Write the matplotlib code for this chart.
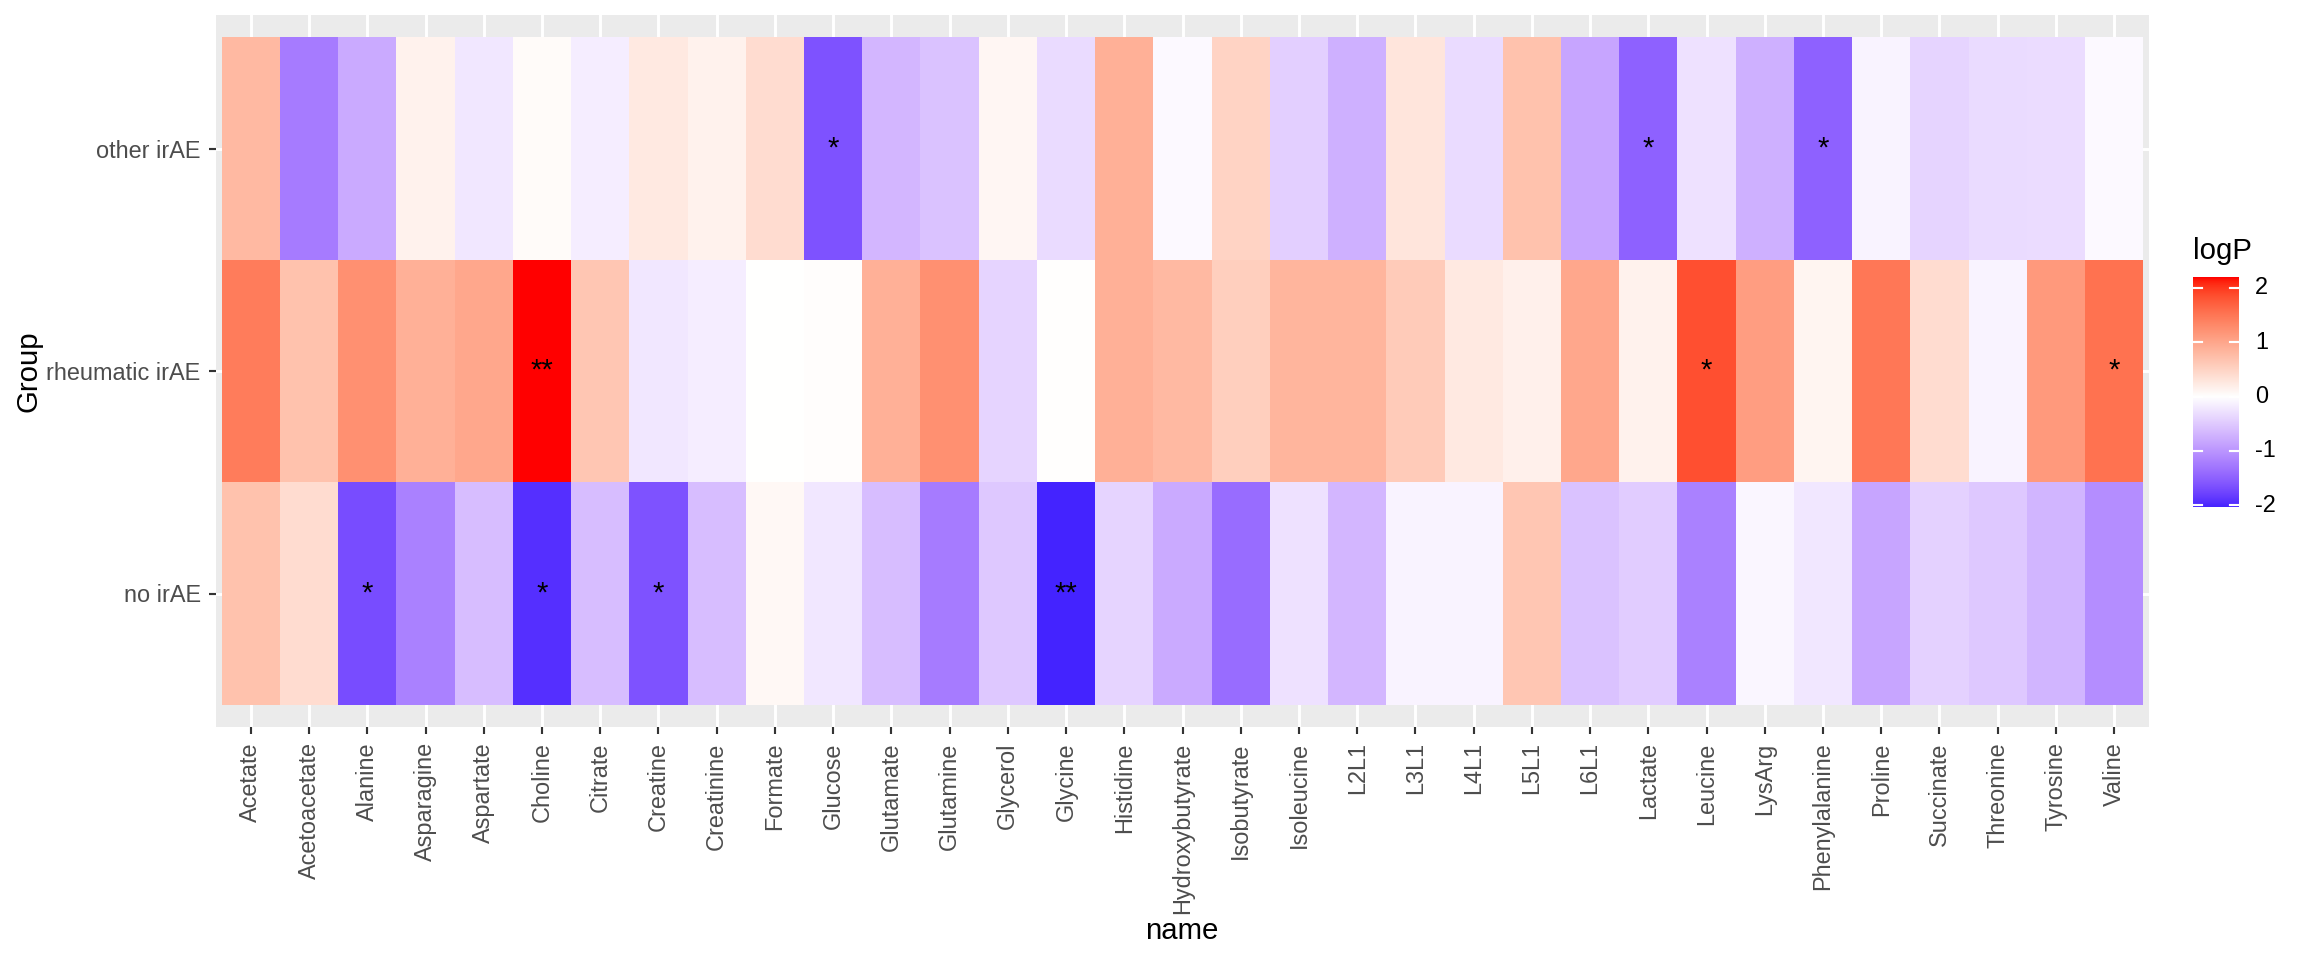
import numpy as np
import matplotlib
matplotlib.use("Agg")
import matplotlib.pyplot as plt
from matplotlib.colors import ListedColormap, Normalize

plt.rcParams['font.family'] = ['Liberation Sans', 'DejaVu Sans']

names = ["Acetate", "Acetoacetate", "Alanine", "Asparagine", "Aspartate", "Choline",
         "Citrate", "Creatine", "Creatinine", "Formate", "Glucose", "Glutamate",
         "Glutamine", "Glycerol", "Glycine", "Histidine", "Hydroxybutyrate",
         "Isobutyrate", "Isoleucine", "L2L1", "L3L1", "L4L1", "L5L1", "L6L1",
         "Lactate", "Leucine", "LysArg", "Phenylalanine", "Proline", "Succinate",
         "Threonine", "Tyrosine", "Valine"]

groups = ["no irAE", "rheumatic irAE", "other irAE"]

logp_no = [0.70, 0.40, -1.70, -1.20, -0.62, -1.95, -0.62, -1.65, -0.62, 0.08, -0.23,
           -0.62, -1.25, -0.52, -2.03, -0.40, -0.80, -1.40, -0.28, -0.68, -0.11,
           -0.11, 0.65, -0.57, -0.48, -1.20, -0.08, -0.23, -0.85, -0.43, -0.52,
           -0.70, -1.08]
logp_rheum = [1.45, 0.70, 1.25, 0.90, 1.00, 2.20, 0.65, -0.23, -0.17, 0.00, 0.02,
              0.90, 1.25, -0.40, 0.01, 0.90, 0.80, 0.55, 0.85, 0.85, 0.60, 0.25,
              0.17, 1.00, 0.15, 1.85, 1.10, 0.12, 1.50, 0.40, -0.11, 1.15, 1.55]
logp_other = [0.80, -1.25, -0.80, 0.15, -0.23, 0.05, -0.17, 0.25, 0.15, 0.40, -1.65,
              -0.68, -0.57, 0.10, -0.34, 0.90, -0.06, 0.50, -0.45, -0.74, 0.30,
              -0.34, 0.70, -0.85, -1.50, -0.28, -0.74, -1.50, -0.11, -0.40, -0.34,
              -0.32, -0.06]

sig_no = {"Alanine": "*", "Choline": "*", "Creatine": "*", "Glycine": "**"}
sig_rheum = {"Choline": "**", "Leucine": "*", "Valine": "*"}
sig_other = {"Glucose": "*", "Lactate": "*", "Phenylalanine": "*"}

legend_ticks = [-2, -1, 0, 1, 2]

# ---------- Lab interpolation (like scales::gradient_n_pal) ----------
def _srgb_to_lab(rgb):
    rgb = np.asarray(rgb, float)
    lin = np.where(rgb <= 0.04045, rgb / 12.92, ((rgb + 0.055) / 1.055) ** 2.4)
    M = np.array([[0.4124564, 0.3575761, 0.1804375],
                  [0.2126729, 0.7151522, 0.0721750],
                  [0.0193339, 0.1191920, 0.9503041]])
    xyz = M @ lin
    wp = np.array([0.95047, 1.0, 1.08883])
    t = xyz / wp
    d = 6 / 29
    f = np.where(t > d ** 3, np.cbrt(t), t / (3 * d * d) + 4 / 29)
    return np.array([116 * f[1] - 16, 500 * (f[0] - f[1]), 200 * (f[1] - f[2])])

def _lab_to_srgb(lab):
    L, a, b = lab
    fy = (L + 16) / 116
    fx = fy + a / 500
    fz = fy - b / 200
    d = 6 / 29
    def finv(f):
        return np.where(f > d, f ** 3, 3 * d * d * (f - 4 / 29))
    wp = np.array([0.95047, 1.0, 1.08883])
    xyz = np.array([finv(fx), finv(fy), finv(fz)]) * wp
    Minv = np.array([[3.2404542, -1.5371385, -0.4985314],
                     [-0.9692660, 1.8760108, 0.0415560],
                     [0.0556434, -0.2040259, 1.0572252]])
    lin = Minv @ xyz
    lin = np.clip(lin, 0, 1)
    rgb = np.where(lin <= 0.0031308, 12.92 * lin, 1.055 * lin ** (1 / 2.4) - 0.055)
    return np.clip(rgb, 0, 1)

low = _srgb_to_lab([0, 0, 1])
mid = _srgb_to_lab([1, 1, 1])
high = _srgb_to_lab([1, 0, 0])
N = 512
cols = []
for t in np.linspace(0, 1, N):
    if t <= 0.5:
        s = t / 0.5
        lab = low + (mid - low) * s
    else:
        s = (t - 0.5) / 0.5
        lab = mid + (high - mid) * s
    cols.append(_lab_to_srgb(lab))
cmap = ListedColormap(cols)

Z = np.array([logp_no, logp_rheum, logp_other])
vmin, vmax = Z.min(), Z.max()
M = max(abs(vmin), abs(vmax))
norm = Normalize(-M, M)

# ---------- figure ----------
W, H, DPI = 2304, 960, 192
fig = plt.figure(figsize=(W / DPI, H / DPI), dpi=DPI)

def fx(px):
    return px / W

def fy(py):
    return 1 - py / H

ax = fig.add_axes([fx(216), fy(727), fx(2149) - fx(216), fy(15) - fy(727)])
ax.set_facecolor("#EBEBEB")
nx, ny = len(names), len(groups)
ax.set_xlim(-0.6, nx - 1 + 0.6)
ax.set_ylim(-0.6, ny - 1 + 0.6)
ax.set_xticks(range(nx))
ax.set_yticks(range(ny))
ax.grid(True, color="white", linewidth=1.1)
ax.set_axisbelow(True)
for s in ax.spines.values():
    s.set_visible(False)

xe = np.arange(nx + 1) - 0.5
ye = np.arange(ny + 1) - 0.5
ax.pcolormesh(xe, ye, Z, cmap=cmap, norm=norm, zorder=2)

for gi, sig in enumerate([sig_no, sig_rheum, sig_other]):
    for nm, lab in sig.items():
        ax.text(names.index(nm), gi, lab, ha="center", va="center",
                fontsize=11, color="black", zorder=3)

ax.set_xticklabels(names, rotation=90, fontsize=8.8, color="#4D4D4D")
ax.set_yticklabels(groups, fontsize=8.8, color="#4D4D4D")
ax.tick_params(axis="both", length=2.75, width=0.8, color="#333333", pad=3.0)

fig.text(fx(1182), 0.030, "name", ha="center", va="center", fontsize=11)
fig.text(fx(29), fy(371), "Group", ha="center", va="center", rotation=90, fontsize=11)

# ---------- colourbar legend ----------
cax = fig.add_axes([fx(2193), fy(507), fx(2239) - fx(2193), fy(277) - fy(507)])
grad = np.linspace(vmin, vmax, 300).reshape(-1, 1)
cax.imshow(grad, cmap=cmap, norm=norm, aspect="auto", origin="lower",
           extent=[0, 1, vmin, vmax])
cax.set_xlim(0, 1)
cax.set_ylim(vmin, vmax)
for s in cax.spines.values():
    s.set_visible(False)
cax.set_xticks([])
cax.set_yticks([])
for t in legend_ticks:
    if vmin <= t <= vmax:
        cax.plot([0, 0.2], [t, t], color="white", linewidth=0.8)
        cax.plot([0.8, 1], [t, t], color="white", linewidth=0.8)
        cax.text(1.35, t, str(t), transform=cax.get_yaxis_transform(),
                 ha="left", va="center", fontsize=8.8, color="black")
fig.text(fx(2193), fy(259), "logP", ha="left", va="baseline", fontsize=11)

fig.savefig("out.png", dpi=DPI, facecolor="white")
